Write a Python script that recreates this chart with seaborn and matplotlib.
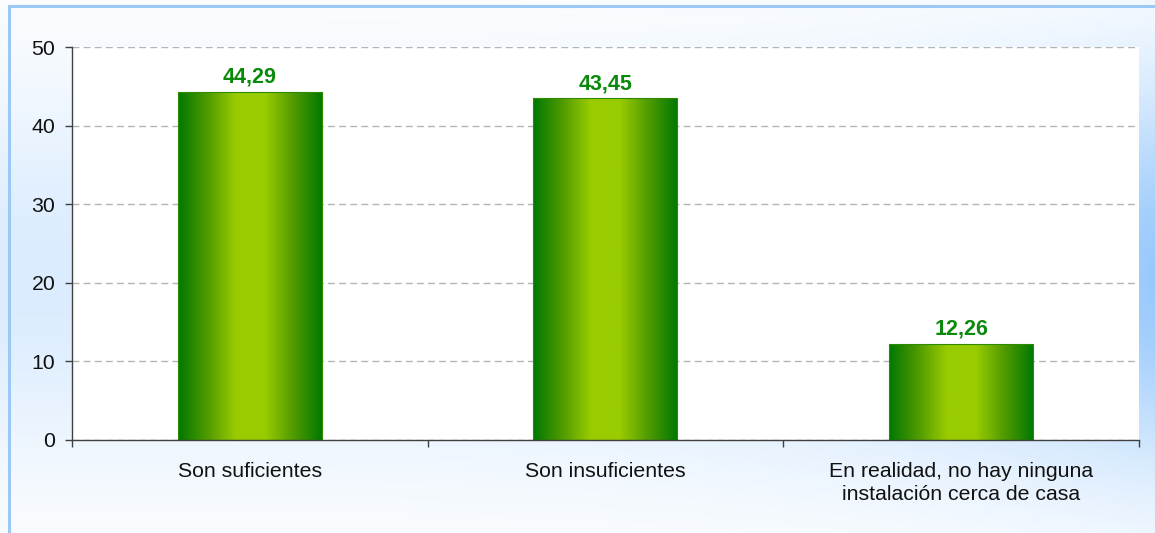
import numpy as np
import pandas as pd
import matplotlib
matplotlib.use("Agg")
import matplotlib.pyplot as plt
from matplotlib.colors import LinearSegmentedColormap
from matplotlib.lines import Line2D
import seaborn as sns

categories = ["Son suficientes", "Son insuficientes",
              "En realidad, no hay ninguna\ninstalación cerca de casa"]
values = [44.29, 43.45, 12.26]
y_ticks = [0, 10, 20, 30, 40, 50]

sns.set_theme(style="white")
plt.rcParams["font.family"] = ["Liberation Sans", "DejaVu Sans"]

df = pd.DataFrame({"categoria": categories, "valor": values})

fig = plt.figure(figsize=(11.55, 5.33), dpi=100)

# Chart-area background: pale blue band, stronger toward the right edge
bg = fig.add_axes([0, 0, 1, 1], zorder=-10)
h, w = 533, 1155
yy = np.linspace(0, 1, h)[:, None]
xx = np.linspace(0, 1, w)[None, :]
vert = np.exp(-((yy - 0.52) / 0.36) ** 2)
horiz = 0.35 + 0.65 * xx ** 4
t = np.clip(vert * horiz, 0, 1)
white = np.array([1.0, 1.0, 1.0])
blue = np.array([0.60, 0.79, 0.99])
img = white[None, None, :] * (1 - t[..., None]) + blue[None, None, :] * t[..., None]
bg.imshow(img, aspect="auto", extent=[0, 1, 0, 1], origin="upper")
bg.set_axis_off()

# Border on the left and top edges
fig.add_artist(Line2D([0.0078, 0.0078], [0, 0.988], transform=fig.transFigure,
                      color="#9cc8f6", lw=2.2))
fig.add_artist(Line2D([0.0078, 1], [0.988, 0.988], transform=fig.transFigure,
                      color="#9cc8f6", lw=2.2))

ax = fig.add_axes([0.0623, 0.1745, 0.9238, 0.7373])
ax.set_facecolor("white")

sns.barplot(data=df, x="categoria", y="valor", ax=ax, width=0.405,
            color="#66aa00", edgecolor="#2e8b00", linewidth=0.8, zorder=2)

# Horizontal green gradient clipped to each bar
cmap = LinearSegmentedColormap.from_list(
    "verde", ["#007800", "#4f9a00", "#99cc00", "#99cc00", "#4f9a00", "#007800"],
    N=256)
grad = np.linspace(0, 1, 256)[None, :]
for patch in ax.patches:
    x0 = patch.get_x()
    pw = patch.get_width()
    ph = patch.get_height()
    im = ax.imshow(grad, cmap=cmap, aspect="auto",
                   extent=[x0, x0 + pw, 0, ph], zorder=2.5,
                   interpolation="bilinear")
    im.set_clip_path(patch)
    patch.set_facecolor("none")
    patch.set_zorder(3)

labels = [f"{v:.2f}".replace(".", ",") for v in values]
ax.bar_label(ax.containers[0], labels=labels, padding=3,
             color="#0a8a0a", fontsize=15.5, fontweight="bold")

ax.set_xlim(-0.5, 2.5)
ax.set_ylim(0, 50)
ax.set_yticks(y_ticks)
ax.yaxis.grid(True, color="#b4b4b4", linestyle=(0, (5, 3)), linewidth=1, zorder=0)
ax.xaxis.grid(False)
ax.set_axisbelow(True)

ax.set_xlabel("")
ax.set_ylabel("")
ax.set_xticks(range(len(categories)))
ax.set_xticklabels(categories, fontsize=15.3, color="#111111", linespacing=1.28)
ax.set_xticks([-0.5, 0.5, 1.5, 2.5], minor=True)
ax.tick_params(axis="x", which="major", length=0, pad=16)
ax.tick_params(axis="x", which="minor", direction="out", length=5,
               width=1, color="#404040", bottom=True)
ax.tick_params(axis="y", direction="out", length=5, width=1,
               color="#404040", labelsize=15.3, labelcolor="#111111", left=True,
               pad=7)

for side in ["top", "right"]:
    ax.spines[side].set_visible(False)
for side in ["left", "bottom"]:
    ax.spines[side].set_color("#404040")
    ax.spines[side].set_linewidth(1)
    ax.spines[side].set_zorder(4)

fig.savefig("out.png", dpi=100)
